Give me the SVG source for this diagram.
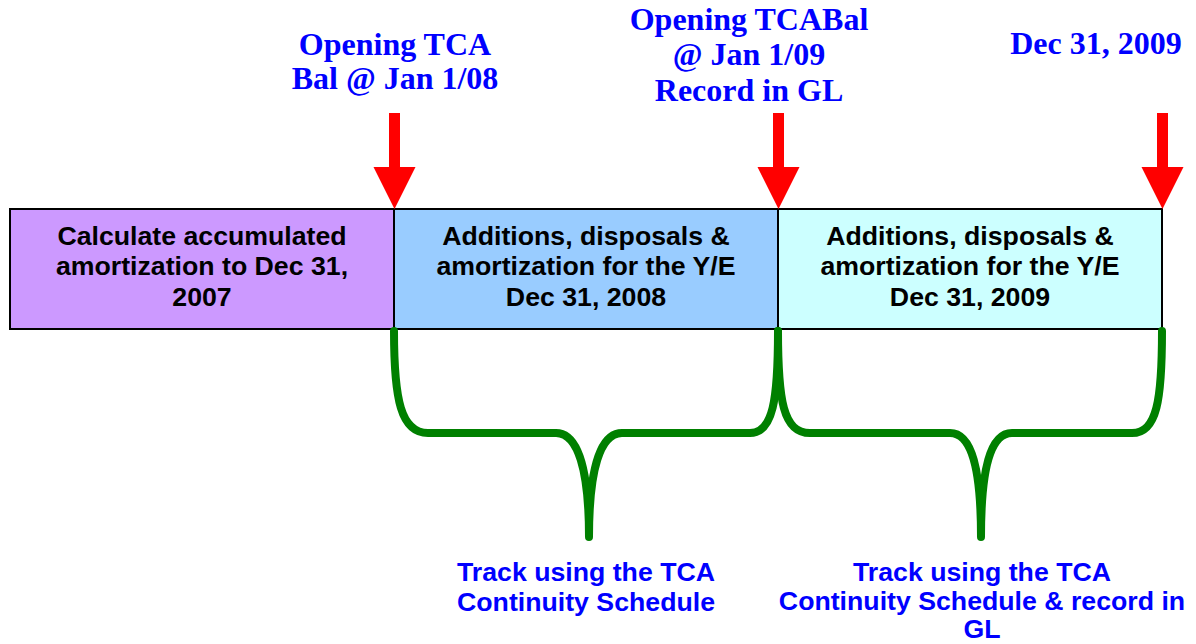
<svg xmlns="http://www.w3.org/2000/svg" width="1196" height="644" viewBox="0 0 1196 644">
<style>
.top{font-family:"Liberation Serif","Times New Roman",serif;font-weight:bold;font-size:32px;fill:#0000FF;text-anchor:middle}
.box{font-family:"Liberation Sans",Arial,sans-serif;font-weight:bold;font-size:26.7px;fill:#000;text-anchor:middle}
.bot{font-family:"Liberation Sans",Arial,sans-serif;font-weight:bold;font-size:26.7px;fill:#0000FF;text-anchor:middle}
.seg{stroke:#000;stroke-width:2}
.arrow{fill:#FF0000}
.brace{fill:none;stroke:#008000;stroke-width:8;stroke-linecap:round;stroke-linejoin:round}
</style>
<rect width="1196" height="644" fill="#fff"/>
<g id="box1">
<rect class="seg" x="10" y="209" width="384" height="120" fill="#CC99FF"/>
<text class="box" x="202" y="245">Calculate accumulated</text>
<text class="box" x="202" y="275">amortization to Dec 31,</text>
<text class="box" x="202" y="306">2007</text>
</g>
<g id="box2">
<rect class="seg" x="394" y="209" width="384" height="120" fill="#99CCFF"/>
<text class="box" x="586" y="245">Additions, disposals &amp;</text>
<text class="box" x="586" y="275">amortization for the Y/E</text>
<text class="box" x="586" y="306">Dec 31, 2008</text>
</g>
<g id="box3">
<rect class="seg" x="778" y="209" width="384" height="120" fill="#CCFFFF"/>
<text class="box" x="970" y="245">Additions, disposals &amp;</text>
<text class="box" x="970" y="275">amortization for the Y/E</text>
<text class="box" x="970" y="306">Dec 31, 2009</text>
</g>
<g id="label1">
<text class="top" x="395" y="55">Opening TCA</text>
<text class="top" x="395" y="89">Bal @ Jan 1/08</text>
</g>
<g id="label2">
<text class="top" x="749" y="30">Opening TCABal</text>
<text class="top" x="749" y="65">@ Jan 1/09</text>
<text class="top" x="749" y="101">Record in GL</text>
</g>
<g id="label3">
<text class="top" x="1096" y="54">Dec 31, 2009</text>
</g>
<g id="label4">
<text class="bot" x="586" y="581">Track using the TCA</text>
<text class="bot" x="586" y="611">Continuity Schedule</text>
</g>
<g id="label5">
<text class="bot" x="982" y="581">Track using the TCA</text>
<text class="bot" x="982" y="610">Continuity Schedule &amp; record in</text>
<text class="bot" x="982" y="638">GL</text>
</g>
<g id="connectors">
<path class="arrow" d="M389,113 H400 V167 H415.5 L394.5,209 L373.5,167 H389 Z"/>
<path class="arrow" d="M773,113 H784 V167 H799.5 L778.5,209 L757.5,167 H773 Z"/>
<path class="arrow" d="M1157,113 H1168 V167 H1183.5 L1162.5,209 L1141.5,167 H1157 Z"/>
<path class="brace" d="M394,331 C394,400 401,433 428,433 L556,433 C578,433 589,470 589,537 C589,470 600,433 622,433 L750,433 C773,433 778,400 778,331"/>
<path class="brace" d="M778,331 C778,400 783,433 810,433 L950,433 C972,433 981,470 981,537 C981,470 990,433 1012,433 L1132,433 C1157,433 1162,400 1162,331"/>
</g>
</svg>
